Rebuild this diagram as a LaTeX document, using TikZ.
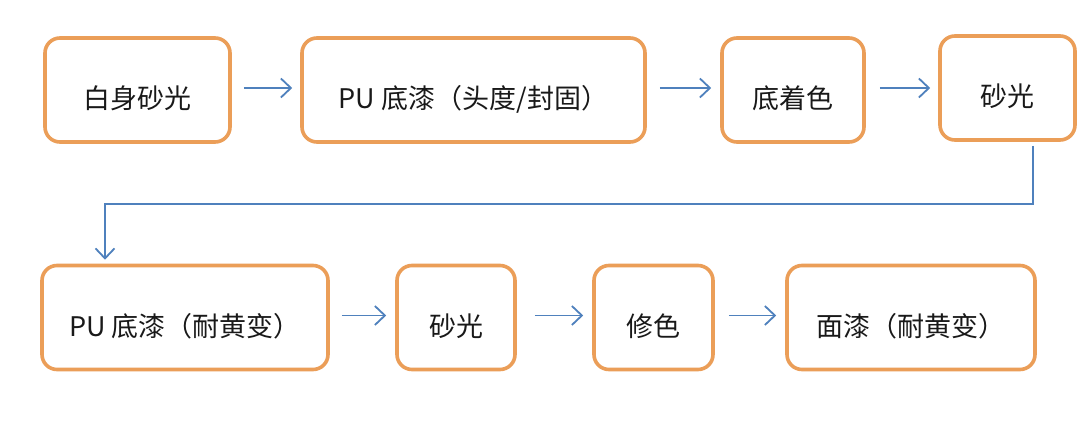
\documentclass[tikz,border=0pt]{standalone}
\usepackage{fontspec}
\newfontfamily\cjk{Noto Sans CJK SC}
\usetikzlibrary{arrows.meta}
\definecolor{boxorange}{RGB}{235,158,88}
\definecolor{arrblue}{RGB}{79,129,189}
\newcommand{\lowtext}[1]{\raisebox{-19pt}[0pt][0pt]{#1}}
\begin{document}
\begin{tikzpicture}[x=1pt,y=-1pt,
  stepbox/.style={draw=boxorange, line width=3.6pt, rounded corners=15pt, fill=white,
    minimum height=104pt, inner sep=0pt, font=\cjk\fontsize{27}{32}\selectfont, text=black!90},
  arr/.style={draw=arrblue, line width=1.8pt, -{Straight Barb[length=10pt,width=19pt]}}]
\useasboundingbox (0,0) rectangle (1080,427);
\fill[white] (0,0) rectangle (1080,427);
\node[stepbox, minimum width=185pt] (b1) at (137.5,90) {\lowtext{白身砂光}};
\node[stepbox, minimum width=343pt] (b2) at (473.5,90) {\lowtext{PU 底漆（头度/封固）}};
\node[stepbox, minimum width=142pt] (b3) at (793,90) {\lowtext{底着色}};
\node[stepbox, minimum width=135pt] (b4) at (1007.5,88) {\lowtext{砂光}};
\node[stepbox, minimum width=286pt] (b5) at (185,317.5) {\lowtext{PU 底漆（耐黄变）}};
\node[stepbox, minimum width=118pt] (b6) at (456,317.5) {\lowtext{砂光}};
\node[stepbox, minimum width=119pt] (b7) at (653.5,317.5) {\lowtext{修色}};
\node[stepbox, minimum width=248pt] (b8) at (911,317.5) {\lowtext{面漆（耐黄变）}};
\draw[arr] ([xshift=12pt,yshift=2pt]b1.east) -- ([xshift=-8pt,yshift=2pt]b2.west);
\draw[arr] ([xshift=13pt,yshift=2pt]b2.east) -- ([xshift=-9pt,yshift=2pt]b3.west);
\draw[arr] ([xshift=14pt,yshift=2pt]b3.east) -- ([xshift=-8pt,yshift=2pt]b4.west |- b3.east);
\coordinate (t1) at (1033,204);
\draw[arr] ([xshift=25.5pt,yshift=-4pt]b4.south) -- (t1) -| ([xshift=-80pt,yshift=4pt]b5.north);
\draw[arr] ([xshift=12pt,yshift=2pt]b5.east) -- ([xshift=-9pt,yshift=2pt]b6.west);
\draw[arr] ([xshift=18pt,yshift=2pt]b6.east) -- ([xshift=-9pt,yshift=2pt]b7.west);
\draw[arr] ([xshift=14pt,yshift=2pt]b7.east) -- ([xshift=-9pt,yshift=2pt]b8.west);
\end{tikzpicture}
\end{document}
